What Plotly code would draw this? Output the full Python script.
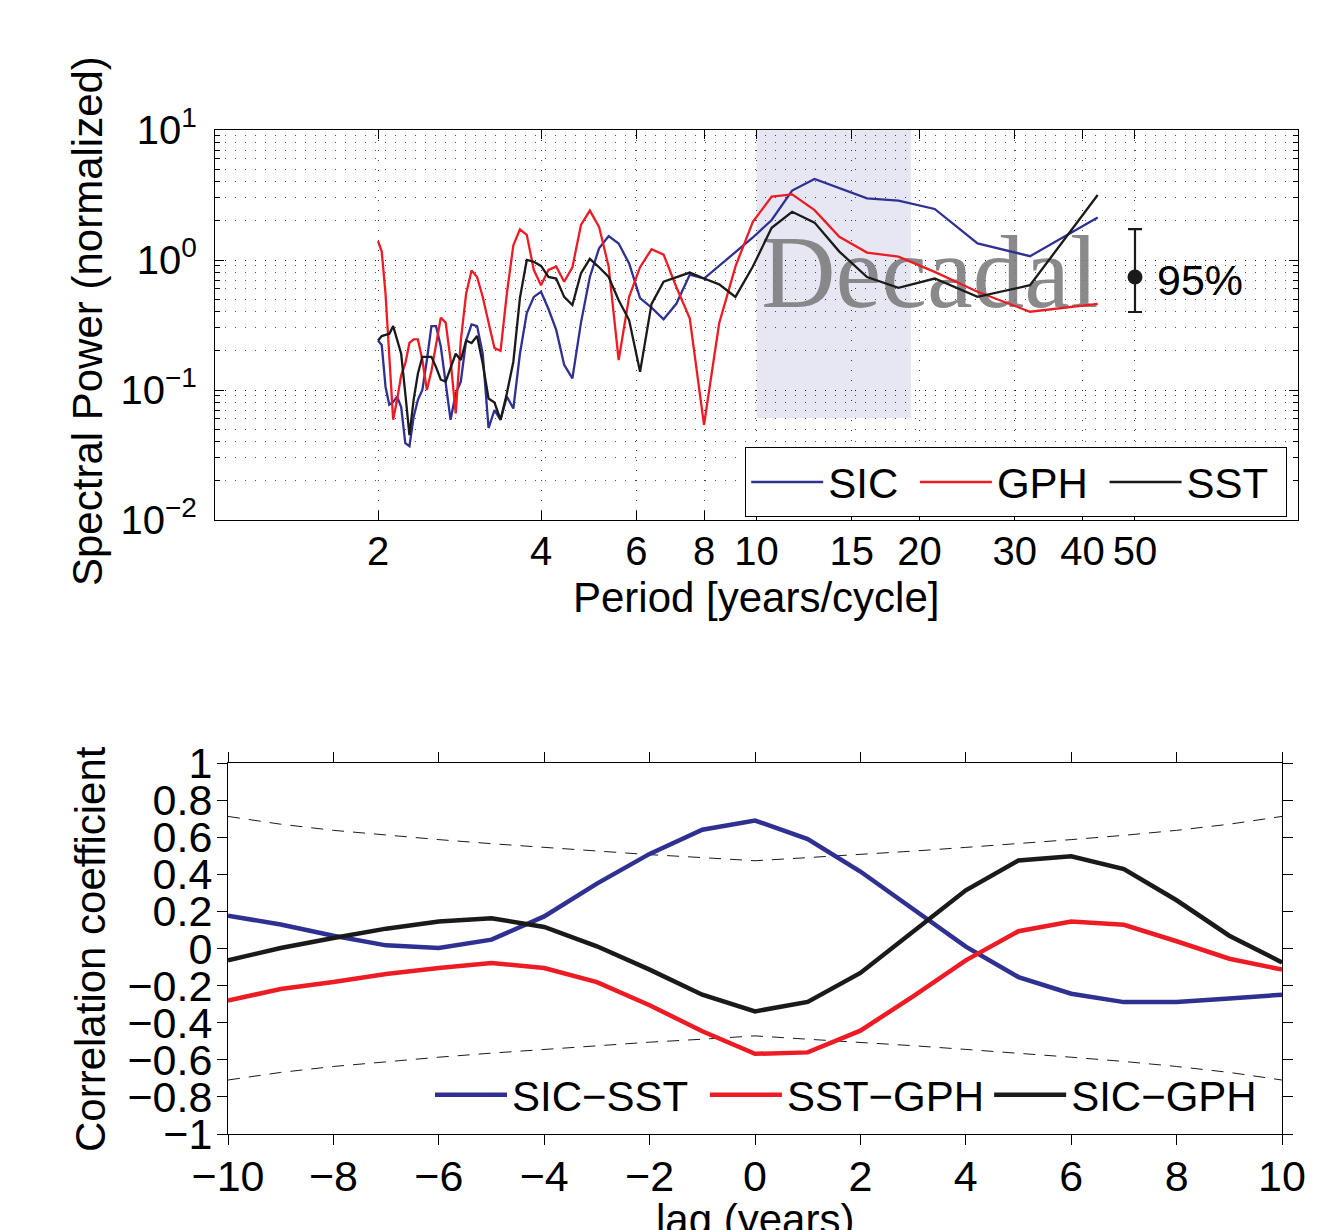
import plotly.graph_objects as go

# ---------------- data: top panel (spectra) ----------------
period = [2.000, 2.032, 2.065, 2.098, 2.133, 2.169, 2.207, 2.246, 2.286, 2.327,
          2.370, 2.415, 2.462, 2.510, 2.560, 2.612, 2.667, 2.723, 2.783, 2.844,
          2.909, 2.977, 3.048, 3.122, 3.200, 3.282, 3.368, 3.459, 3.556, 3.657,
          3.765, 3.879, 4.000, 4.129, 4.267, 4.414, 4.571, 4.741, 4.923, 5.120,
          5.333, 5.565, 5.818, 6.095, 6.400, 6.737, 7.111, 7.529, 8.000, 8.533,
          9.143, 9.846, 10.667, 11.636, 12.800, 14.222, 16.000, 18.286, 21.333,
          25.600, 32.000, 42.667]

sic = [0.24, 0.222, 0.106, 0.077, 0.081, 0.089, 0.074, 0.039, 0.037, 0.062,
       0.084, 0.10, 0.17, 0.31, 0.31, 0.216, 0.113, 0.059, 0.094, 0.116,
       0.24, 0.32, 0.31, 0.19, 0.051, 0.070, 0.059, 0.089, 0.072, 0.19,
       0.39, 0.52, 0.57, 0.42, 0.29, 0.156, 0.123, 0.33, 0.74, 1.23,
       1.53, 1.34, 0.94, 0.51, 0.43, 0.35, 0.46, 0.77, 0.72, 0.90,
       1.14, 1.49, 2.03, 3.42, 4.20, 3.56, 2.98, 2.86, 2.47,
       1.34, 1.07, 2.12]

gph = [1.40, 1.16, 0.55, 0.20, 0.059, 0.084, 0.13, 0.16, 0.23, 0.245,
       0.245, 0.17, 0.10, 0.14, 0.22, 0.36, 0.33, 0.17, 0.066, 0.24,
       0.55, 0.83, 0.74, 0.52, 0.33, 0.21, 0.20, 0.55, 1.30, 1.72,
       1.56, 0.84, 0.64, 0.84, 0.89, 0.68, 0.88, 1.86, 2.40, 1.80,
       0.89, 0.17, 0.52, 0.88, 1.21, 1.10, 0.62, 0.356, 0.054, 0.326,
       0.89, 1.97, 3.07, 3.20, 2.42, 1.51, 1.14, 1.06, 0.81,
       0.57, 0.40, 0.46]

sst = [0.24, 0.26, 0.265, 0.27, 0.31, 0.24, 0.19, 0.094, 0.045, 0.084,
       0.134, 0.18, 0.18, 0.18, 0.15, 0.12, 0.116, 0.15, 0.19, 0.17,
       0.24, 0.23, 0.26, 0.16, 0.086, 0.08, 0.059, 0.094, 0.165, 0.51,
       1.00, 0.97, 0.90, 0.74, 0.72, 0.52, 0.45, 0.79, 1.02, 0.88,
       0.74, 0.49, 0.345, 0.138, 0.46, 0.68, 0.74, 0.80, 0.72, 0.65,
       0.52, 0.89, 1.77, 2.35, 1.94, 1.16, 0.74, 0.61, 0.72,
       0.52, 0.64, 3.16]

decadal_band = [10, 19.3]          # period range of shaded band
decadal_band_power = [0.061, 10]   # power range of shaded band
ci_period = [50]
ci_mid = [0.74]
ci_hi = [1.73]
ci_lo = [0.398]

x_ticks_top = [2, 4, 6, 8, 10, 15, 20, 30, 40, 50]
y_ticks_top = [0.01, 0.1, 1, 10]
y_ticktext_top = ["10<sup>\u22122</sup>", "10<sup>\u22121</sup>", "10<sup>0</sup>", "10<sup>1</sup>"]

# ---------------- data: bottom panel (lagged correlations) ----------------
lag = list(range(-10, 11))
sic_sst = [0.177, 0.129, 0.069, 0.017, 0.003, 0.048, 0.173, 0.35, 0.51, 0.64, 0.69,
           0.59, 0.415, 0.21, 0.01, -0.154, -0.244, -0.289, -0.289, -0.27, -0.249]
sst_gph = [-0.281, -0.218, -0.181, -0.137, -0.105, -0.078, -0.105, -0.181, -0.306, -0.446, -0.568,
           -0.56, -0.443, -0.258, -0.064, 0.093, 0.146, 0.128, 0.039, -0.055, -0.114]
sic_gph = [-0.064, 0.003, 0.057, 0.107, 0.146, 0.163, 0.116, 0.012, -0.114, -0.249, -0.339,
           -0.288, -0.132, 0.093, 0.314, 0.475, 0.497, 0.428, 0.26, 0.069, -0.075]
conf_upper = [0.712, 0.67, 0.637, 0.61, 0.587, 0.565, 0.545, 0.525, 0.506, 0.49, 0.473,
              0.49, 0.506, 0.525, 0.545, 0.565, 0.587, 0.61, 0.637, 0.67, 0.712]
conf_lower = [-0.709, -0.668, -0.636, -0.609, -0.586, -0.564, -0.544, -0.524, -0.505, -0.489, -0.471,
              -0.489, -0.505, -0.524, -0.544, -0.564, -0.586, -0.609, -0.636, -0.668, -0.709]

BLUE = "#2e3192"
RED = "#ed1c24"
BLACK = "#1a1a1a"
FONT = "Liberation Sans, Arial, Helvetica, sans-serif"
NBSP = "\u00a0"

# page body has an 8px margin, so the figure is sized to fit the window exactly
OFF = 8
W, H = 1327 - OFF, 1230 - OFF


def px_x(v):
    return (v - OFF) / W


def px_y(v):
    return 1 - (v - OFF) / H


fig = go.Figure()

# "Decadal" label drawn underneath the lines
fig.add_trace(go.Scatter(
    x=[20.9], y=[0.69], mode="text", text=["Decadal"],
    textfont=dict(family="Liberation Serif, Times New Roman, serif", size=103,
                  color="rgba(125,125,128,0.9)"),
    showlegend=False, hoverinfo="skip", xaxis="x", yaxis="y"))

for name, vals, col in [("SIC" + NBSP, sic, BLUE), ("GPH" + NBSP, gph, RED), ("SST" + NBSP, sst, BLACK)]:
    fig.add_trace(go.Scatter(x=period, y=vals, mode="lines", name=name,
                             line=dict(color=col, width=2.3),
                             xaxis="x", yaxis="y", legend="legend"))

# 95% confidence bar
fig.add_trace(go.Scatter(
    x=ci_period, y=ci_mid, mode="markers",
    marker=dict(color=BLACK, size=15),
    error_y=dict(type="data", symmetric=False,
                 array=[h - m for h, m in zip(ci_hi, ci_mid)],
                 arrayminus=[m - l for m, l in zip(ci_mid, ci_lo)],
                 color=BLACK, thickness=2.2, width=7),
    showlegend=False, hoverinfo="skip", xaxis="x", yaxis="y"))

# bottom panel
for bound in (conf_upper, conf_lower):
    fig.add_trace(go.Scatter(x=lag, y=bound, mode="lines",
                             line=dict(color=BLACK, width=1, dash="12px,9px"),
                             showlegend=False, hoverinfo="skip",
                             xaxis="x2", yaxis="y2"))

for name, vals, col in [("SIC\u2212SST" + NBSP, sic_sst, BLUE),
                        ("SST\u2212GPH", sst_gph, RED),
                        ("SIC\u2212GPH", sic_gph, BLACK)]:
    fig.add_trace(go.Scatter(x=lag, y=vals, mode="lines", name=name,
                             line=dict(color=col, width=4.5),
                             xaxis="x2", yaxis="y2", legend="legend2"))

grid_common = dict(gridcolor="rgba(0,0,0,0.75)", griddash="1px,9px", gridwidth=1)

fig.update_layout(
    width=W, height=H,
    margin=dict(l=0, r=0, t=0, b=0, autoexpand=False),
    paper_bgcolor="white", plot_bgcolor="white",
    font=dict(family=FONT, color="black", size=40),
    xaxis=dict(
        type="log", range=[0, 2], domain=[px_x(215), px_x(1298)],
        anchor="y", tickmode="array", tickvals=x_ticks_top,
        ticktext=[str(v) for v in x_ticks_top],
        ticks="inside", ticklen=9, tickcolor="black", tickwidth=1,
        showline=True, linecolor="black", linewidth=1.2, mirror="ticks",
        showgrid=True, **grid_common, automargin=False,
        tickfont=dict(size=40), ticklabelstandoff=-4, zeroline=False,
    ),
    yaxis=dict(
        type="log", range=[-2, 1], domain=[px_y(520), px_y(130)],
        anchor="x", tickmode="array", tickvals=y_ticks_top, ticktext=y_ticktext_top,
        ticks="inside", ticklen=9, tickcolor="black", tickwidth=1,
        showline=True, linecolor="black", linewidth=1.2, mirror="ticks",
        showgrid=True, **grid_common, automargin=False,
        minor=dict(ticks="inside", ticklen=5, tickcolor="black", dtick="D1",
                   showgrid=True, gridcolor="rgba(0,0,0,0.7)", griddash="1px,9px", gridwidth=1),
        tickfont=dict(size=40), ticklabelstandoff=9, zeroline=False,
    ),
    xaxis2=dict(
        range=[-10, 10], domain=[px_x(228), px_x(1282)], anchor="y2",
        tickmode="linear", tick0=-10, dtick=2,
        ticks="outside", ticklen=10, tickcolor="black", tickwidth=1,
        showline=True, linecolor="black", linewidth=1.2, mirror="ticks",
        showgrid=False, zeroline=False, tickfont=dict(size=43), automargin=False,
        ticklabelstandoff=-6,
    ),
    yaxis2=dict(
        range=[-1, 1], domain=[px_y(1134), px_y(763)], anchor="x2",
        tickmode="linear", tick0=-1, dtick=0.2,
        ticks="outside", ticklen=10, tickcolor="black", tickwidth=1,
        showline=True, linecolor="black", linewidth=1.2, mirror="ticks",
        showgrid=False, zeroline=False, tickfont=dict(size=43),
        ticklabelstandoff=-4, automargin=False,
    ),
    legend=dict(
        orientation="h", x=px_x(745), y=px_y(447), xanchor="left", yanchor="top",
        bgcolor="white", bordercolor="black", borderwidth=1.2,
        font=dict(size=42, family=FONT), itemwidth=72,
    ),
    legend2=dict(
        orientation="h", x=px_x(430), y=px_y(1095), xanchor="left", yanchor="middle",
        bgcolor="rgba(0,0,0,0)", borderwidth=0,
        font=dict(size=42, family=FONT), itemwidth=72,
    ),
    shapes=[dict(type="rect", xref="x", yref="y",
                 x0=decadal_band[0], x1=decadal_band[1],
                 y0=decadal_band_power[0], y1=decadal_band_power[1],
                 fillcolor="#e6e7f2", line=dict(width=0), layer="below")],
    annotations=[
        dict(text="Spectral Power (normalized)", x=px_x(88), y=px_y(321),
             xref="paper", yref="paper", textangle=-90, showarrow=False,
             xanchor="center", yanchor="middle", font=dict(size=42)),
        dict(text="Period [years/cycle]", x=px_x(756), y=px_y(597),
             xref="paper", yref="paper", showarrow=False,
             xanchor="center", yanchor="middle", font=dict(size=42)),
        dict(text="95%", x=px_x(1155), y=px_y(280), xref="paper", yref="paper",
             xanchor="left", yanchor="middle", showarrow=False, font=dict(size=43)),
        dict(text="Correlation coefficient", x=px_x(90), y=px_y(949),
             xref="paper", yref="paper", textangle=-90, showarrow=False,
             xanchor="center", yanchor="middle", font=dict(size=42)),
        dict(text="lag (years)", x=px_x(755), y=px_y(1194), xref="paper", yref="paper",
             xanchor="center", yanchor="top", showarrow=False, font=dict(size=42)),
    ],
)

fig.write_html("out.html")
